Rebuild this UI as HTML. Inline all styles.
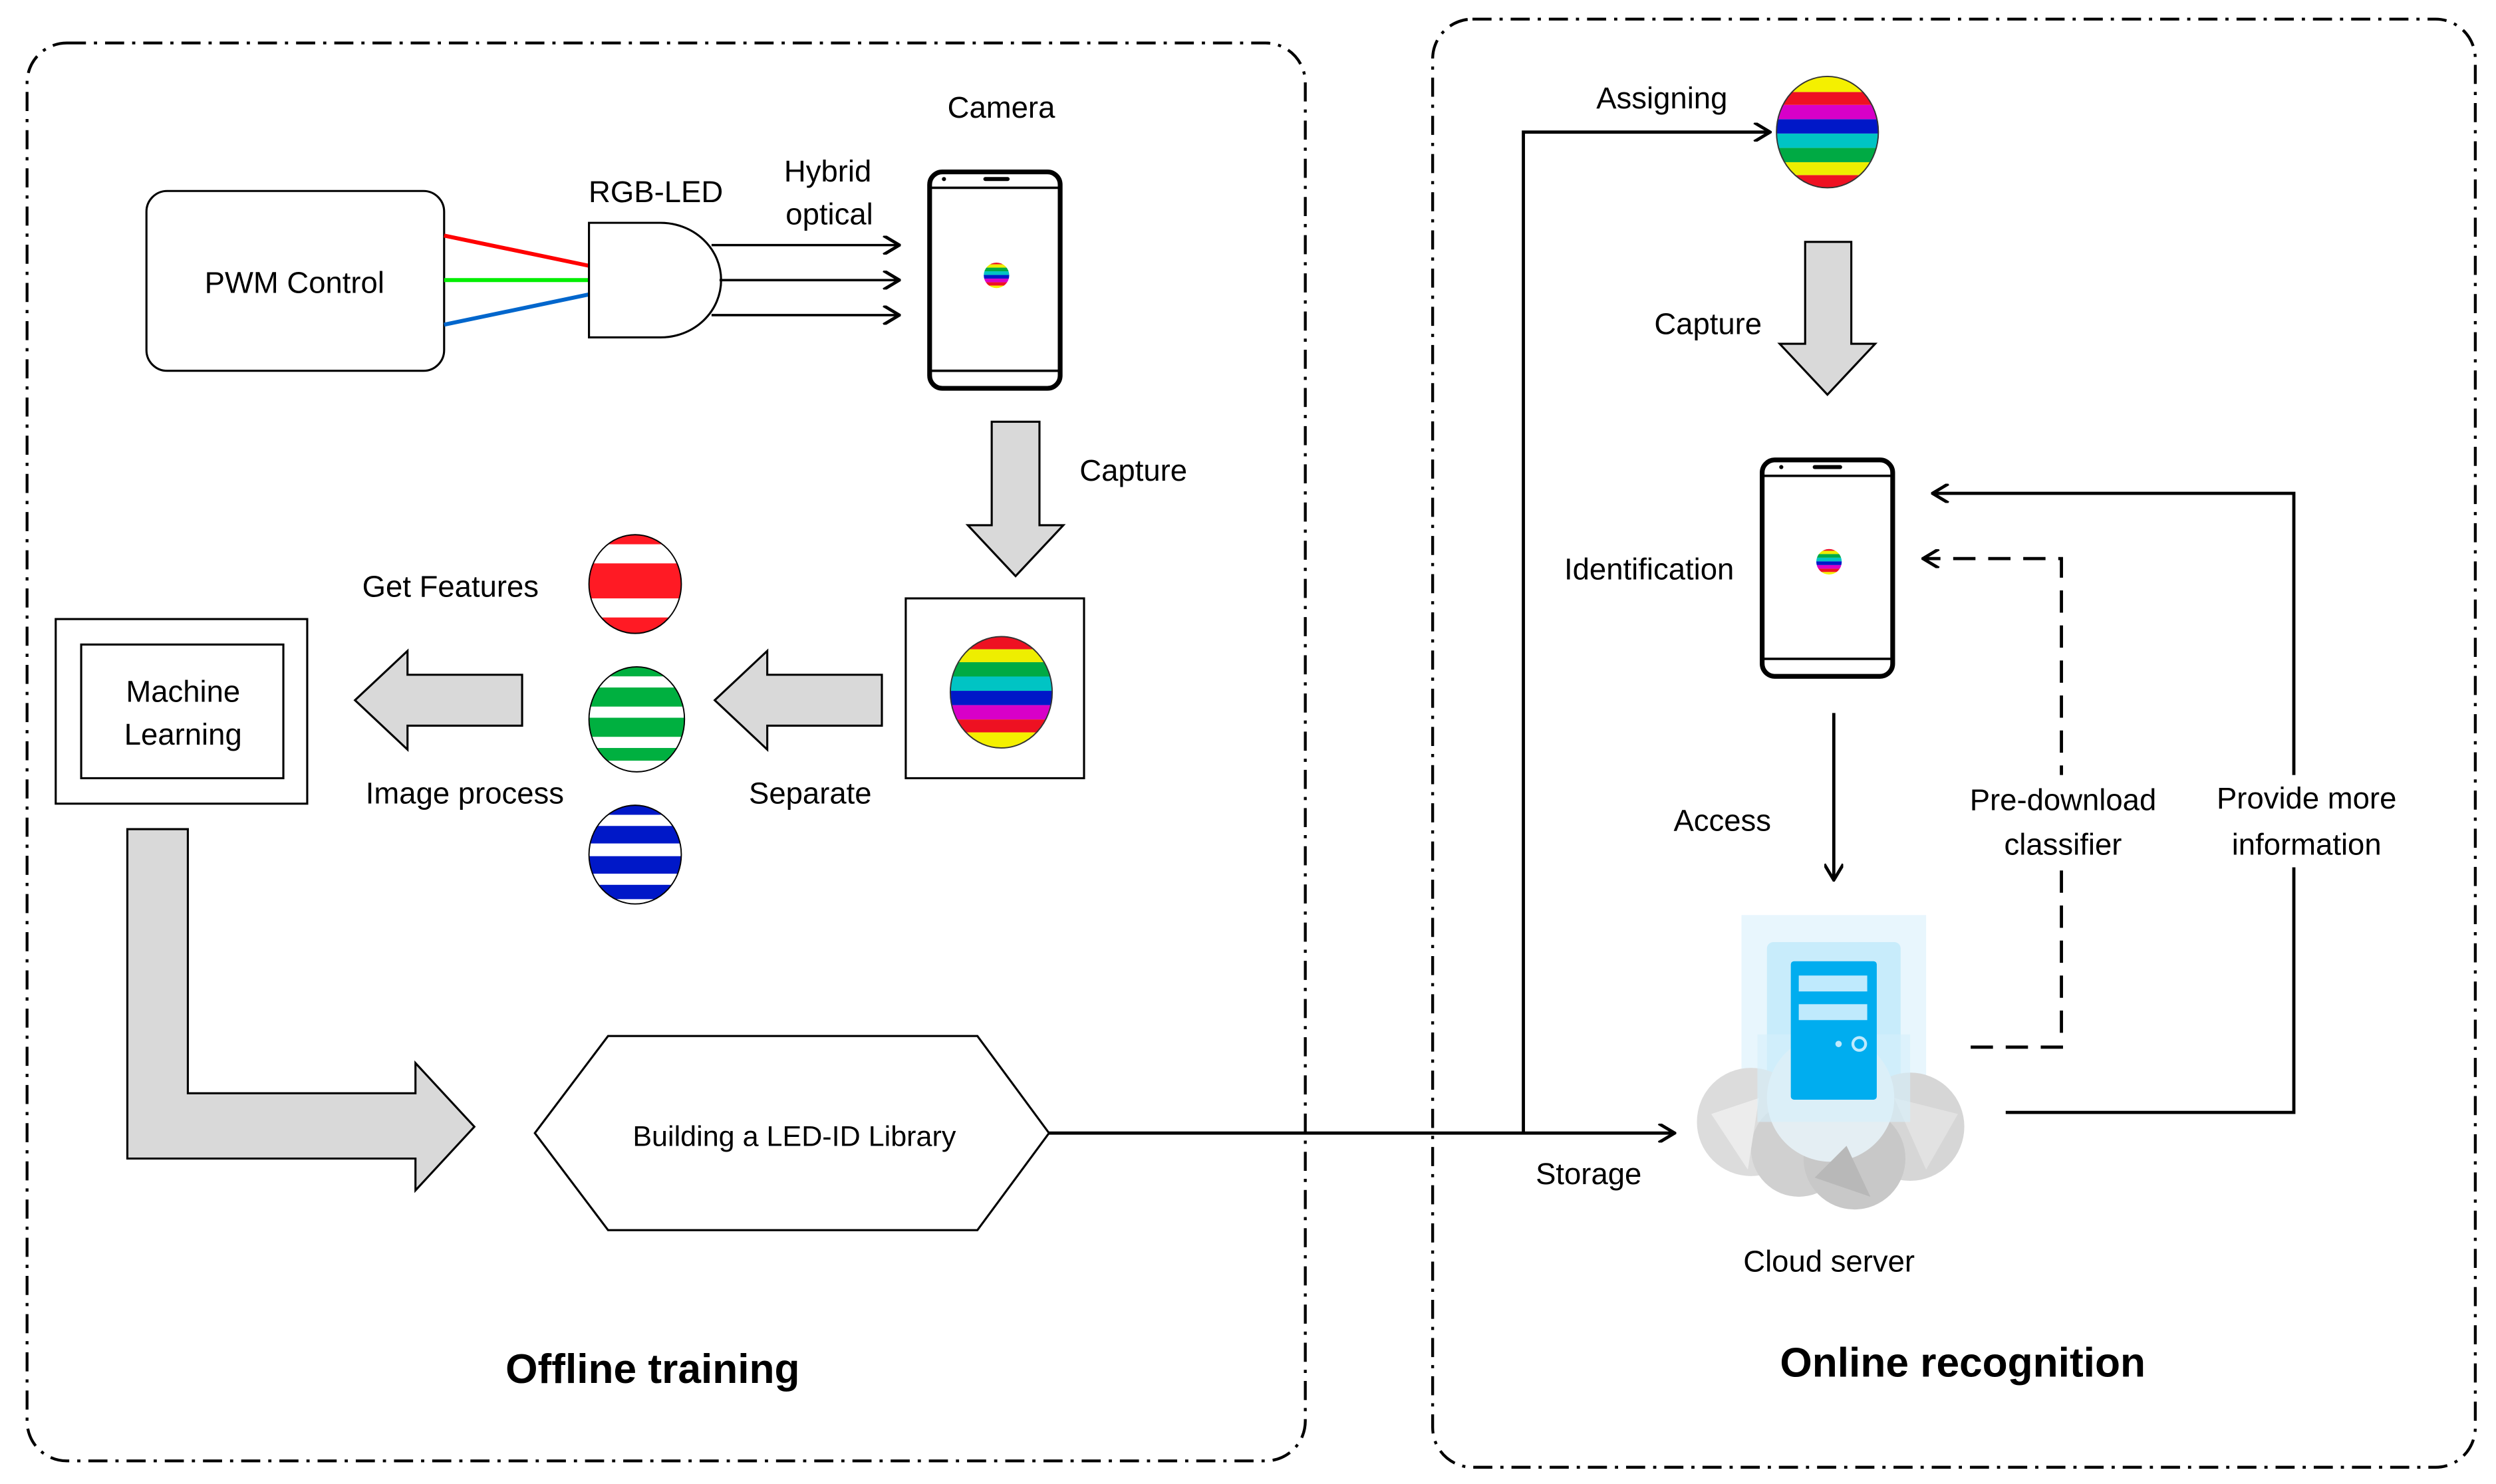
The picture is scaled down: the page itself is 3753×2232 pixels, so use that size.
<!DOCTYPE html>
<html><head><meta charset="utf-8"><style>
html,body{margin:0;padding:0;background:#fff;}
svg{display:block;}
text{font-family:"Liberation Sans",sans-serif;fill:#000;}
</style></head><body>
<svg width="3753" height="2232" viewBox="0 0 1568 932.5" xmlns="http://www.w3.org/2000/svg">
<defs>
<marker id="ah" viewBox="0 0 12 12" refX="11" refY="6" markerWidth="12" markerHeight="12" markerUnits="userSpaceOnUse" orient="auto">
<path d="M1,0 L11,6 L1,12" fill="none" stroke="#000" stroke-width="2"/></marker>
<clipPath id="c1"><ellipse cx="629" cy="435" rx="32" ry="35"/></clipPath>
<clipPath id="c2"><ellipse cx="1148" cy="83" rx="32" ry="35"/></clipPath>
<clipPath id="cr"><ellipse cx="399" cy="367" rx="29" ry="31"/></clipPath>
<clipPath id="cg"><ellipse cx="400" cy="452" rx="30" ry="33"/></clipPath>
<clipPath id="cb"><ellipse cx="399" cy="537" rx="29" ry="31"/></clipPath>
<clipPath id="p1"><ellipse cx="626" cy="173" rx="8" ry="8"/></clipPath>
<clipPath id="p2"><ellipse cx="1149" cy="353" rx="8" ry="8"/></clipPath>
<g id="rainbow">
<rect x="-40" y="-40" width="80" height="10" fill="#ee1122"/>
<rect x="-40" y="-30" width="80" height="9" fill="#eeee00"/>
<rect x="-40" y="-21" width="80" height="10" fill="#00aa44"/>
<rect x="-40" y="-11" width="80" height="10" fill="#00c4c4"/>
<rect x="-40" y="-1" width="80" height="10" fill="#0018c8"/>
<rect x="-40" y="9" width="80" height="10" fill="#d800c8"/>
<rect x="-40" y="19" width="80" height="9" fill="#ee1122"/>
<rect x="-40" y="28" width="80" height="12" fill="#f4f000"/>
</g>
<radialGradient id="glow" cx="50%" cy="45%" r="60%"><stop offset="0" stop-color="#bfe8fb"/><stop offset="1" stop-color="#eaf7fd"/></radialGradient>
</defs>

<!-- Containers -->
<rect x="17" y="27" width="803" height="891" rx="25" fill="none" stroke="#000" stroke-width="1.8" stroke-dasharray="12,5,2,5"/>
<rect x="900" y="12" width="655" height="910" rx="25" fill="none" stroke="#000" stroke-width="1.8" stroke-dasharray="12,5,2,5"/>

<!-- PWM -->
<rect x="92" y="120" width="187" height="113" rx="13" fill="#fff" stroke="#000" stroke-width="1.3"/>
<text x="185" y="184" font-size="19" text-anchor="middle">PWM Control</text>
<line x1="279" y1="148" x2="370" y2="167" stroke="#ff0000" stroke-width="2.5"/>
<line x1="279" y1="176" x2="370" y2="176" stroke="#00ee00" stroke-width="2.5"/>
<line x1="279" y1="204" x2="370" y2="185" stroke="#0066cc" stroke-width="2.5"/>
<path d="M370,140 H415 A38,36 0 0 1 415,212 H370 Z" fill="#fff" stroke="#000" stroke-width="1.3"/>
<text x="412" y="127" font-size="19" text-anchor="middle">RGB-LED</text>
<text x="520" y="114" font-size="19" text-anchor="middle">Hybrid</text>
<text x="521" y="141" font-size="19" text-anchor="middle">optical</text>
<line x1="447" y1="154" x2="565" y2="154" stroke="#000" stroke-width="1.5" marker-end="url(#ah)"/>
<line x1="452" y1="176" x2="565" y2="176" stroke="#000" stroke-width="1.5" marker-end="url(#ah)"/>
<line x1="447" y1="198" x2="565" y2="198" stroke="#000" stroke-width="1.5" marker-end="url(#ah)"/>
<text x="629" y="74" font-size="19" text-anchor="middle">Camera</text>

<!-- Phone 1 -->
<rect x="584" y="108" width="82" height="136" rx="8" fill="#fff" stroke="#000" stroke-width="3"/>
<line x1="585" y1="118" x2="665" y2="118" stroke="#000" stroke-width="1.5"/>
<line x1="585" y1="233" x2="665" y2="233" stroke="#000" stroke-width="1.5"/>
<line x1="619" y1="112.5" x2="633" y2="112.5" stroke="#000" stroke-width="2.5" stroke-linecap="round"/>
<circle cx="593" cy="112.5" r="1.3" fill="#000"/>
<g clip-path="url(#p1)"><use href="#rainbow" transform="translate(626,173) scale(0.23)"/></g>

<!-- Capture arrow 1 -->
<path d="M623,265 H653 V330 H668 L638,362 L608,330 H623 Z" fill="#d9d9d9" stroke="#000" stroke-width="1.3"/>
<text x="712" y="302" font-size="19" text-anchor="middle">Capture</text>

<rect x="569" y="376" width="112" height="113" fill="#fff" stroke="#000" stroke-width="1.3"/>
<g clip-path="url(#c1)"><use href="#rainbow" transform="translate(629,435) scale(0.9)"/></g>
<ellipse cx="629" cy="435" rx="32" ry="35" fill="none" stroke="#333" stroke-width="0.8"/>

<!-- Separate arrow -->
<path d="M449,440 L482,409 V424 H554 V456 H482 V471 Z" fill="#d9d9d9" stroke="#000" stroke-width="1.3"/>
<text x="509" y="505" font-size="19" text-anchor="middle">Separate</text>

<!-- Separated balls -->
<g clip-path="url(#cr)"><rect x="360" y="330" width="80" height="80" fill="#fff"/>
<rect x="360" y="330" width="80" height="12" fill="#ff1a24"/><rect x="360" y="354" width="80" height="22" fill="#ff1a24"/><rect x="360" y="388" width="80" height="12" fill="#ff1a24"/></g>
<ellipse cx="399" cy="367" rx="29" ry="31" fill="none" stroke="#000" stroke-width="0.8"/>
<g clip-path="url(#cg)"><rect x="360" y="415" width="80" height="80" fill="#fff"/>
<rect x="360" y="415" width="80" height="10" fill="#00b040"/><rect x="360" y="432" width="80" height="12" fill="#00b040"/><rect x="360" y="451" width="80" height="12" fill="#00b040"/><rect x="360" y="470" width="80" height="8" fill="#00b040"/></g>
<ellipse cx="400" cy="452" rx="30" ry="33" fill="none" stroke="#000" stroke-width="0.8"/>
<g clip-path="url(#cb)"><rect x="360" y="500" width="80" height="80" fill="#fff"/>
<rect x="360" y="500" width="80" height="12" fill="#0018c8"/><rect x="360" y="519" width="80" height="11" fill="#0018c8"/><rect x="360" y="538" width="80" height="11" fill="#0018c8"/><rect x="360" y="556" width="80" height="9" fill="#0018c8"/></g>
<ellipse cx="399" cy="537" rx="29" ry="31" fill="none" stroke="#000" stroke-width="0.8"/>
<text x="283" y="375" font-size="19" text-anchor="middle">Get Features</text>
<text x="292" y="505" font-size="19" text-anchor="middle">Image process</text>

<!-- Image process arrow -->
<path d="M223,440 L256,409 V424 H328 V456 H256 V471 Z" fill="#d9d9d9" stroke="#000" stroke-width="1.3"/>

<!-- ML -->
<rect x="35" y="389" width="158" height="116" fill="#fff" stroke="#000" stroke-width="1.3"/>
<rect x="51" y="405" width="127" height="84" fill="#fff" stroke="#000" stroke-width="1.3"/>
<text x="115" y="441" font-size="19" text-anchor="middle">Machine</text>
<text x="115" y="468" font-size="19" text-anchor="middle">Learning</text>

<!-- L arrow -->
<path d="M80,521 H118 V687 H261 V668 L298,708 L261,748 V728 H80 Z" fill="#d9d9d9" stroke="#000" stroke-width="1.3"/>

<!-- Hexagon -->
<path d="M336,712 L382,651 H614 L659,712 L614,773 H382 Z" fill="#fff" stroke="#000" stroke-width="1.3"/>
<text x="499" y="720" font-size="18" text-anchor="middle">Building a LED-ID Library</text>

<!-- Storage line -->
<line x1="659" y1="712" x2="1052" y2="712" stroke="#000" stroke-width="2" marker-end="url(#ah)"/>
<text x="998" y="744" font-size="19" text-anchor="middle">Storage</text>
<path d="M957,712 V83 H1112" fill="none" stroke="#000" stroke-width="2" marker-end="url(#ah)"/>
<text x="1044" y="68" font-size="19" text-anchor="middle">Assigning</text>

<!-- top ball -->
<g clip-path="url(#c2)"><use href="#rainbow" transform="translate(1148,83) scale(0.9,-0.9)"/></g>
<ellipse cx="1148" cy="83" rx="32" ry="35" fill="none" stroke="#333" stroke-width="0.8"/>

<path d="M1134,152 H1163 V216 H1178 L1148,248 L1118,216 H1134 Z" fill="#d9d9d9" stroke="#000" stroke-width="1.3"/>
<text x="1073" y="210" font-size="19" text-anchor="middle">Capture</text>

<!-- Phone 2 -->
<rect x="1107" y="289" width="82" height="136" rx="8" fill="#fff" stroke="#000" stroke-width="3"/>
<line x1="1108" y1="299" x2="1188" y2="299" stroke="#000" stroke-width="1.5"/>
<line x1="1108" y1="414" x2="1188" y2="414" stroke="#000" stroke-width="1.5"/>
<line x1="1140" y1="293.5" x2="1156" y2="293.5" stroke="#000" stroke-width="2.5" stroke-linecap="round"/>
<circle cx="1119" cy="293.5" r="1.3" fill="#000"/>
<g clip-path="url(#p2)"><use href="#rainbow" transform="translate(1149,353) scale(0.23)"/></g>
<text x="1036" y="364" font-size="19" text-anchor="middle">Identification</text>

<line x1="1152" y1="448" x2="1152" y2="553" stroke="#000" stroke-width="2" marker-end="url(#ah)"/>
<text x="1082" y="522" font-size="19" text-anchor="middle">Access</text>

<!-- Cloud server -->
<rect x="1094" y="575" width="116" height="130" fill="#e8f6fd"/>
<rect x="1110" y="592" width="84" height="110" rx="4" fill="#c8ecfb"/>
<g>
<circle cx="1100" cy="705" r="34" fill="#dcdcdc"/>
<circle cx="1200" cy="708" r="34" fill="#d6d6d6"/>
<circle cx="1130" cy="722" r="30" fill="#d0d0d0"/>
<circle cx="1165" cy="728" r="32" fill="#c8c8c8"/>
<circle cx="1150" cy="690" r="40" fill="#e4eef3"/>
<path d="M1075,700 L1105,690 L1098,735 Z" fill="#ececec"/>
<path d="M1140,740 L1160,720 L1175,752 Z" fill="#b8b8b8"/>
<path d="M1190,690 L1230,700 L1210,735 Z" fill="#e2e2e2"/>
</g>
<rect x="1104" y="650" width="96" height="55" fill="#d6f0fb" opacity="0.6"/>
<rect x="1125" y="604" width="54" height="87" rx="2" fill="#00adef"/>
<rect x="1130" y="613" width="43" height="10" fill="#bfeafd"/>
<rect x="1130" y="631" width="43" height="10" fill="#bfeafd"/>
<circle cx="1155" cy="656" r="2" fill="#bfeafd"/>
<circle cx="1168" cy="656" r="4" fill="none" stroke="#bfeafd" stroke-width="1.8"/>
<text x="1149" y="799" font-size="19" text-anchor="middle">Cloud server</text>

<!-- Pre-download dashed -->
<path d="M1238,658 H1295 V351 H1208" fill="none" stroke="#000" stroke-width="2" stroke-dasharray="14,8" marker-end="url(#ah)"/>
<rect x="1232" y="487" width="128" height="58" fill="#fff"/>
<text x="1296" y="509" font-size="19" text-anchor="middle">Pre-download</text>
<text x="1296" y="537" font-size="19" text-anchor="middle">classifier</text>

<!-- Provide more -->
<path d="M1260,699 H1441 V310 H1214" fill="none" stroke="#000" stroke-width="2" marker-end="url(#ah)"/>
<rect x="1386" y="487" width="126" height="58" fill="#fff"/>
<text x="1449" y="508" font-size="19" text-anchor="middle">Provide more</text>
<text x="1449" y="537" font-size="19" text-anchor="middle">information</text>

<text x="410" y="869" font-size="26" font-weight="bold" text-anchor="middle">Offline training</text>
<text x="1233" y="865" font-size="26" font-weight="bold" text-anchor="middle">Online recognition</text>
</svg>
</body></html>
